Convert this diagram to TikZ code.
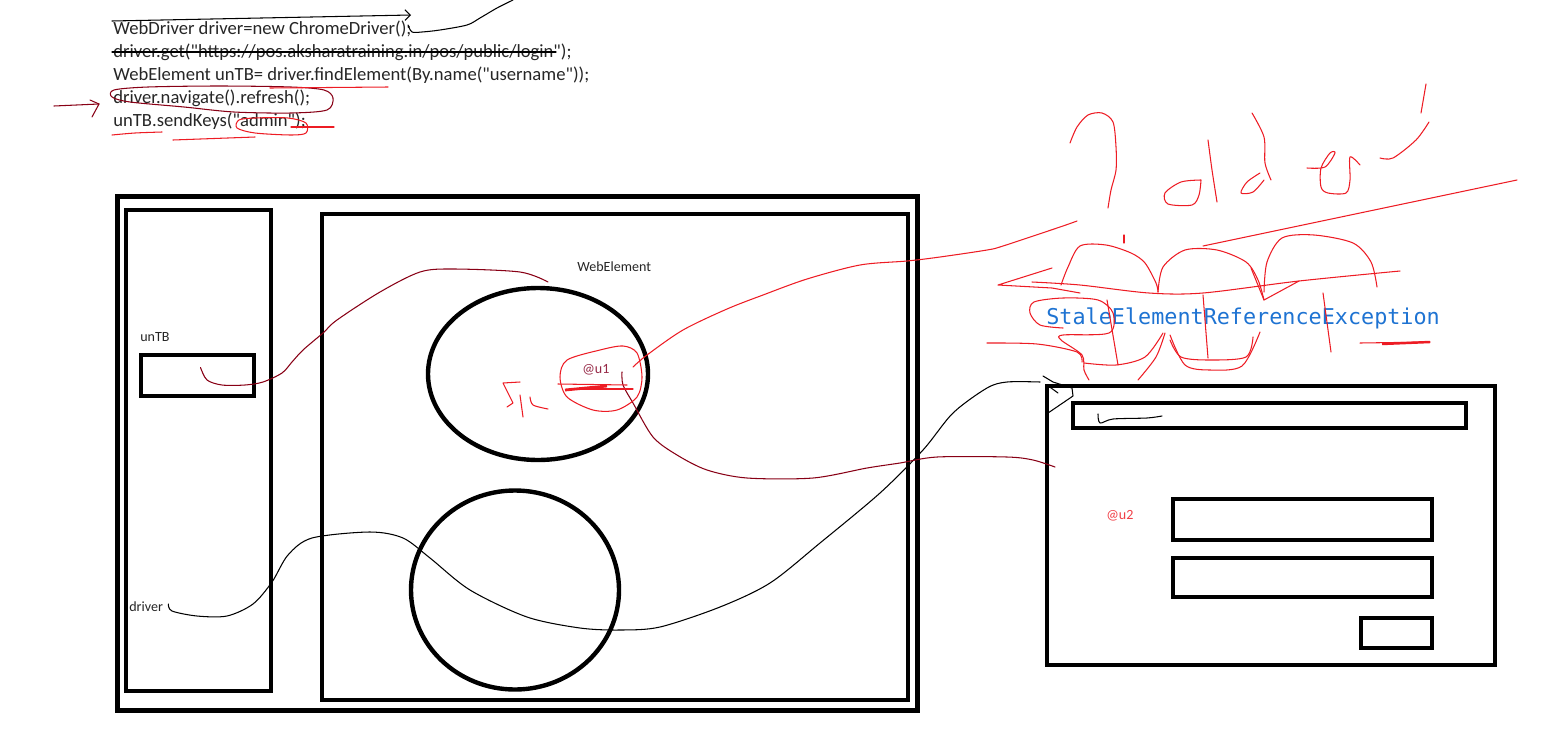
\documentclass[tikz,border=0pt]{standalone}
\usepackage{fontspec}
\setmainfont{Carlito}[Ligatures=TeXOff]
\newfontfamily\codefont{DejaVu Sans Mono}
\usetikzlibrary{shapes.geometric,arrows.meta}

\definecolor{paintred}{RGB}{237,28,36}
\definecolor{paintmaroon}{RGB}{136,0,21}
\definecolor{refmauve}{RGB}{150,40,70}
\definecolor{idblue}{RGB}{30,115,210}

\begin{document}
\begin{tikzpicture}[x=0.02cm,y=-0.02cm,
  box/.style 2 args={draw,line width=2.5pt,minimum width=#1*0.02cm,minimum height=#2*0.02cm,inner sep=0pt},
  oval/.style 2 args={draw,ellipse,line width=2.5pt,minimum width=#1*0.02cm,minimum height=#2*0.02cm,inner sep=0pt},
  code/.style={anchor=west,inner sep=0pt,text=black!85,font=\fontsize{10.6}{12}\selectfont},
  lbl/.style={anchor=west,inner sep=0pt,text=black!85,font=\fontsize{8}{10}\selectfont},
  pen/.style={line width=0.6pt,line join=round,line cap=round},
  redpen/.style={pen,paintred},
  maroonpen/.style={pen,paintmaroon}]
\useasboundingbox (0,0) rectangle (1554,734);

% the code
\node[code] (l1) at (113,29) {WebDriver driver=new ChromeDriver();};
\node[code] (l2) at (113,52) {driver.get("https://pos.aksharatraining.in/pos/public/login");};
\node[code] (l3) at (113,75) {WebElement unTB= driver.findElement(By.name("username"));};
\node[code] (l4) at (113,98) {driver.navigate().refresh();};
\node[code] (l5) at (113,121) {unTB.sendKeys("admin");};

% old page
\node[box={800}{514}] (browser) at (517.5,453.5) {};
\node[box={145}{481}] (sidebar) at (198.5,450.5) {};
\node[box={586}{486}] (page) at (615,457) {};
\node[box={113}{41}] (untbbox) at (197.5,375.5) {};
\node[oval={220}{172}] (oldelem) at (538,374) {};
\node[oval={208}{199}] (otherelem) at (515,590) {};
\node[lbl] (untblbl) at (140,337) {unTB};
\node[lbl] (driverlbl) at (129,607) {driver};
\node[lbl] (welbl) at (577,267) {WebElement};
\node[lbl,text=refmauve] (u1lbl) at (582,370) {@u1};

% refreshed page
\node[box={448}{279}] (newpage) at (1271,525.5) {};
\node[box={393}{25}] (newbar) at (1269.5,415.5) {};
\node[box={259}{41}] (newuser) at (1302.5,519.5) {};
\node[box={259}{39}] (newpass) at (1302.5,577.5) {};
\node[box={71}{30}] (newbtn) at (1396.5,633) {};
\node[lbl,text=paintred!85!white] (u2lbl) at (1106,516) {@u2};
\node[anchor=west,inner sep=0pt,text=idblue,font=\codefont\fontsize{12.4}{14}\selectfont] (stale) at (1046,318) {StaleElementReferenceException};

% black pen
\draw[pen] (112,52) -- (556,52);
\draw[pen,-{Straight Barb[length=3pt]}] (112,21) -- (411,15);
\draw[pen] plot[smooth] coordinates {(408,25) (412,32) (422,32) (440,30) (467,25) (480,18) (497,8) (513,0)};
\draw[pen] plot[smooth] coordinates {([shift={(5,-3)}]driverlbl.east) (172,611) (197,616) (227,616) (253,604) (272,582) (288,555) (312,538) (370,532) (403,538) (430,558) (470,590) (527,617) (580,628) (620,630) (660,627) (720,607) (770,583) (820,543) (880,493) (923,450) (953,413) (987,388) (1007,382) (1040,382)};
\draw[pen] (1043,376) -- (1053,382) -- (1072,388) -- (1073,396) -- (1048,413);
\draw[pen] (1047,385) -- (1058,393);
\draw[pen] plot[smooth] coordinates {(1098,414) (1100,423) (1113,419) (1147,418) (1162,416)};

% maroon pen
\draw[maroonpen] (54,106) -- (99,104);
\draw[maroonpen] (90,100) -- (99,104) -- (92,117);
\draw[maroonpen] plot[smooth cycle] coordinates {(114,90) (148,87) (219,86) (291,87) (324,90) (333,98) (327,110) (291,113) (234,112) (184,107) (130,102) (112,97)};
\draw[maroonpen] plot[smooth] coordinates {([shift={(3,-8)}]untbbox.center) (207,380) (222,385) (245,385) (263,382) (282,373) (292,362) (303,350) (323,333) (337,320) (380,292) (420,272) (453,269) (520,272) (548,282)};
\draw[maroonpen] plot[smooth] coordinates {(622,372) (623,385) (633,403) (653,437) (677,455) (707,470) (747,478) (813,478) (867,468) (900,463) (937,457) (1007,457) (1033,460) (1055,467)};

% red pen
\draw[redpen] (270,88) -- (388,87);
\draw[redpen] plot[smooth] coordinates {(112,135) (135,133) (162,132)};
\draw[redpen] (173,140) -- (255,137);
\draw[redpen] plot[smooth cycle] coordinates {(239,120) (255,118) (288,118) (306,123) (306,133) (291,135) (255,133) (237,128)};
\draw[redpen] (291,127) -- (334,127);
\draw[redpen] plot[smooth cycle] coordinates {(623,346) (600,350) (567,360) (560,377) (567,397) (593,410) (617,410) (637,397) (642,377) (637,353)};
\draw[redpen] (558,384) -- (627,385);
\draw[redpen] (570,389) -- (633,389);
\draw[paintred,line width=1.6pt] (565,390) -- (607,386);
\draw[redpen] (520,382) -- (503,383) -- (510,397) -- (513,403) -- (507,407);
\draw[redpen] (520,395) -- (523,417);
\draw[redpen] plot[smooth] coordinates {(530,397) (533,405) (548,409)};
\draw[redpen] plot[smooth] coordinates {(633,367) (647,355) (683,330) (727,309) (763,295) (807,279) (860,265) (907,261) (940,257) (987,250) (1003,246) (1060,227) (1077,221)};
\draw[redpen] (1203,246) -- (1517,180);
% "?old ui"
\draw[redpen] plot[smooth] coordinates {(1070,143) (1077,127) (1088,115) (1102,113) (1113,122) (1116,147) (1116,170) (1111,190) (1108,208)};
\draw[redpen] plot[smooth] coordinates {(1201,180) (1181,182) (1165,193) (1168,204) (1192,205) (1199,195) (1201,180)};
\draw[redpen] plot[smooth] coordinates {(1208,140) (1212,170) (1217,202)};
\draw[redpen] plot[smooth] coordinates {(1260,173) (1247,182) (1241,193) (1253,192) (1264,180)};
\draw[redpen] plot[smooth] coordinates {(1252,113) (1264,137) (1265,163) (1271,180)};
\draw[redpen] plot[smooth] coordinates {(1307,168) (1325,167) (1335,153) (1330,153) (1321,168) (1321,187) (1328,193) (1346,193) (1350,180) (1350,157) (1360,165)};
\draw[redpen] plot[smooth] coordinates {(1380,158) (1393,158) (1416,140) (1429,122)};
\draw[redpen] (1421,113) -- (1426,84);
% scribbles round the exception
\draw[redpen] plot[smooth] coordinates {(1061,285) (1068,267) (1080,246) (1106,245) (1131,253) (1145,263) (1156,283) (1158,292)};
\draw[redpen] plot[smooth] coordinates {(1158,292) (1163,267) (1185,250) (1217,250) (1246,262) (1258,280) (1264,300)};
\draw[redpen] plot[smooth] coordinates {(1264,292) (1267,262) (1282,238) (1314,235) (1353,243) (1371,262) (1377,287)};
\draw[redpen] plot[smooth] coordinates {(1032,282) (1080,285) (1149,293) (1203,293) (1299,281) (1400,271)};
\draw[redpen] (1052,268) -- (998,285) -- (1052,288) -- (1080,293);
\draw[redpen] (1251,268) -- (1264,300) -- (1299,281);
\draw[redpen] (1124,235) -- (1124,243);
\draw[redpen] plot[smooth] coordinates {(1089,380) (1084,370) (1082,355) (1061,340) (1063,335) (1109,333) (1113,313) (1098,300) (1063,298) (1034,302) (1030,313) (1040,325) (1063,328)};
\draw[redpen] (1107,300) -- (1118,365);
\draw[redpen] (1203,295) -- (1208,358);
\draw[redpen] (1323,293) -- (1331,352);
\draw[redpen] plot[smooth] coordinates {(1084,363) (1116,365) (1145,357) (1163,333)};
\draw[redpen] plot[smooth] coordinates {(1165,333) (1156,357) (1138,380)};
\draw[redpen] plot[smooth] coordinates {(1170,335) (1185,365) (1210,370) (1242,366) (1260,332)};
\draw[redpen] plot[smooth] coordinates {(1170,340) (1181,357) (1210,360) (1246,357) (1253,337)};
\draw[redpen] plot[smooth] coordinates {(987,343) (1037,344) (1077,352) (1082,362)};
\draw[redpen] (1360,343) -- (1430,342);
\draw[paintred,line width=1.4pt] (1382,344) -- (1430,342);
\end{tikzpicture}
\end{document}
